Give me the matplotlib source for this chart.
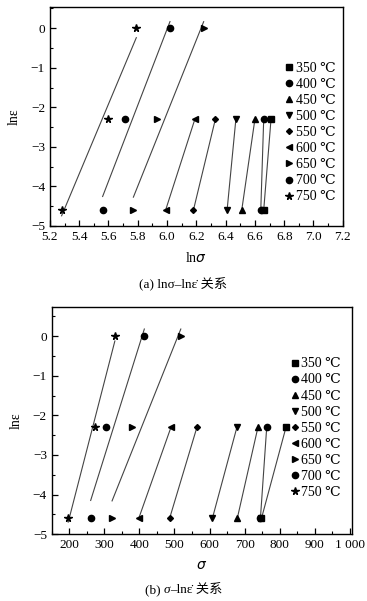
import numpy as np
import matplotlib
matplotlib.use("Agg")
import matplotlib.pyplot as plt
from matplotlib.ticker import MultipleLocator, FuncFormatter

FAM = ['Liberation Serif', 'DejaVu Serif', 'Noto Sans CJK SC']
plt.rcParams['font.family'] = FAM
plt.rcParams['axes.unicode_minus'] = True

temps = ["350 ℃", "400 ℃", "450 ℃", "500 ℃", "550 ℃", "600 ℃", "650 ℃", "700 ℃", "750 ℃"]
markers = ['s', 'o', '^', 'v', 'D', '<', '>', 'o', '*']
msizes = [4, 4.5, 4.5, 4.5, 3.0, 4.5, 4.5, 4.5, 5.5]

# ln(strain rate) levels
lne_3 = [0.0, -2.3, -4.6]
lne_2 = [-2.3, -4.6]

# Panel (a): ln(sigma) values
ln_sigma = [
    [6.71, 6.66],          # 350
    [6.66, 6.64],          # 400
    [6.60, 6.51],          # 450
    [6.47, 6.41],          # 500
    [6.33, 6.18],          # 550
    [6.19, 5.99],          # 600
    [6.25, 5.93, 5.77],    # 650
    [6.02, 5.71, 5.56],    # 700
    [5.79, 5.60, 5.28],    # 750
]

# Panel (b): sigma values
sigma = [
    [818, 748],            # 350
    [763, 745],            # 400
    [738, 679],            # 450
    [678, 608],            # 500
    [564, 486],            # 550
    [490, 398],            # 600
    [518, 378, 322],       # 650
    [414, 304, 261],       # 700
    [330, 273, 197],       # 750
]

fig = plt.figure(figsize=(3.67, 6.01), dpi=100)
ax1 = fig.add_axes([0.136, 0.624, 0.798, 0.364])
ax2 = fig.add_axes([0.141, 0.111, 0.817, 0.378])

def draw(ax, xs_all):
    handles = []
    for xs, lab, m, ms in zip(xs_all, temps, markers, msizes):
        ys = lne_3 if len(xs) == 3 else lne_2
        xs = np.array(xs, float); ys = np.array(ys, float)
        b, a = np.polyfit(xs, ys, 1)
        xr = np.array([xs.min(), xs.max()])
        ax.plot(xr, a + b * xr, color='#444444', lw=0.8, zorder=2)
        h, = ax.plot(xs, ys, linestyle='none', marker=m, color='black', markersize=ms,
                     label=lab, zorder=3)
        handles.append(h)
    return handles

h1 = draw(ax1, ln_sigma)
h2 = draw(ax2, sigma)

for ax in (ax1, ax2):
    ax.tick_params(which='both', direction='in', labelsize=9.5)
    ax.tick_params(which='major', length=4, width=0.9)
    ax.tick_params(which='minor', length=2.5, width=0.8)
    ax.yaxis.set_major_locator(MultipleLocator(1))
    ax.yaxis.set_minor_locator(MultipleLocator(0.5))
    for s in ax.spines.values():
        s.set_linewidth(1.0)
    ax.set_ylabel("lnε", fontsize=10, labelpad=7)

ax1.set_xlim(5.2, 7.2)
ax1.set_ylim(-5, 0.53)
ax1.xaxis.set_major_locator(MultipleLocator(0.2))
ax1.xaxis.set_minor_locator(MultipleLocator(0.1))
ax1.xaxis.set_major_formatter(FuncFormatter(lambda v, p: f"{v:.1f}"))
ax1.set_xlabel("ln$\\it{σ}$", fontsize=10, labelpad=6)

ax2.set_xlim(150, 1005)
ax2.set_ylim(-5, 0.73)
ax2.xaxis.set_major_locator(MultipleLocator(100))
ax2.xaxis.set_minor_locator(MultipleLocator(50))
ax2.xaxis.set_major_formatter(FuncFormatter(lambda v, p: "1 000" if abs(v - 1000) < 1 else f"{int(round(v))}"))
ax2.set_xlabel("$\\it{σ}$", fontsize=10, labelpad=6)

leg_kw = dict(frameon=False, fontsize=10, handletextpad=0.05, labelspacing=0.22,
              handlelength=0.8, borderaxespad=0, numpoints=1)
ax1.legend(handles=h1, loc='upper left', bbox_to_anchor=(0.78, 0.775), **leg_kw)
ax2.legend(handles=h2, loc='upper left', bbox_to_anchor=(0.775, 0.803), **leg_kw)

def caption(ycenter_px, pieces, fs=9.5):
    fig.canvas.draw()
    r = fig.canvas.get_renderer()
    y = 1 - ycenter_px / 601
    texts = []
    for s, st in pieces:
        t = fig.text(0, y, s, fontsize=fs, style=st, va='center', ha='left', family=FAM)
        texts.append(t)
    widths = [t.get_window_extent(r).width for t in texts]
    total = sum(widths)
    x = (fig.bbox.width - total) / 2
    for t, w in zip(texts, widths):
        t.set_x(x / fig.bbox.width)
        x += w

caption(284, [("(a) lnσ–lnε\u0307 关系", 'normal')])
caption(590, [("(b) ", 'normal'), ("σ", 'italic'), ("–lnε\u0307 关系", 'normal')])

fig.savefig("out.png", dpi=100)
